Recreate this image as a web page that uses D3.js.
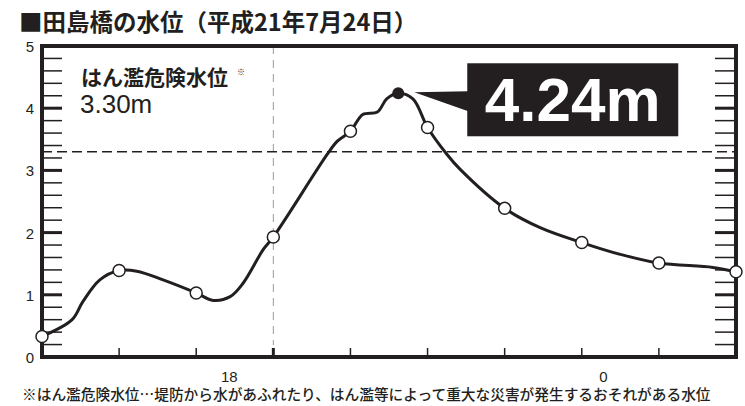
<!DOCTYPE html>
<html>
<head>
<meta charset="utf-8">
<script src="https://cdn.jsdelivr.net/npm/d3@7"></script>
</head>
<body style="margin:0">
<div id="grafico"></div>
<script>
var lineX   = [0, 0.39, 0.53, 0.75, 1, 1.23, 1.57, 2, 2.22, 2.44, 2.61, 2.87, 3, 3.70, 3.83, 4, 4.16, 4.35, 4.47, 4.62, 4.81, 5, 5.25, 5.42, 6, 6.46, 7, 7.5, 8, 8.7, 9];
var lineVal = [0.33, 0.60, 0.89, 1.24, 1.39, 1.38, 1.24, 1.03, 0.91, 0.97, 1.19, 1.73, 1.93, 3.26, 3.47, 3.63, 3.90, 3.94, 4.15, 4.24, 4.15, 3.69, 3.26, 3.02, 2.39, 2.08, 1.84, 1.65, 1.51, 1.44, 1.37];
var markX   = [0, 1, 2, 3, 4, 5, 6, 7, 8, 9];
var markVal = [0.33, 1.39, 1.03, 1.93, 3.63, 3.69, 2.39, 1.84, 1.51, 1.37];
var peakX = 4.62, peakVal = 4.24;
var dangerLevel = 3.30;
var eventX = 3;
var xTickPos = [2.43, 7.28];
var xTickLabels = ["18", "0"];
var yMajor = [0, 1, 2, 3, 4, 5];

var margin = {top: 46, right: 9, bottom: 49, left: 42},
    width = 745 - margin.left - margin.right,
    height = 406 - margin.top - margin.bottom;

var INK = "#231f20";
var LATIN = "Liberation Sans, Arial, sans-serif";
var JP = "Noto Sans CJK JP, sans-serif";

var root = d3.select("#grafico").append("svg")
    .attr("width", 745)
    .attr("height", 406);

var x = d3.scaleLinear().domain([0, 9]).range([0, width]);
var y = d3.scaleLinear().domain([0, 5]).range([height, 0]);

var svg = root.append("g")
    .attr("transform", "translate(" + margin.left + "," + margin.top + ")");

// inner ticks every 0.2 m on both sides, integers thicker
var yTicks = y.ticks(25).filter(function(v) { return v > 0 && v < 5; });
svg.append("g")
    .selectAll("line")
    .data(yTicks)
    .enter()
    .append("line")
      .attr("x1", 0).attr("x2", 20)
      .attr("y1", function(d) { return y(d); })
      .attr("y2", function(d) { return y(d); })
      .attr("stroke", INK)
      .attr("stroke-width", function(d) { return d % 1 === 0 ? 3 : 1.5; });
svg.append("g")
    .selectAll("line")
    .data(yTicks)
    .enter()
    .append("line")
      .attr("x1", width - 21).attr("x2", width)
      .attr("y1", function(d) { return y(d); })
      .attr("y2", function(d) { return y(d); })
      .attr("stroke", INK)
      .attr("stroke-width", function(d) { return d % 1 === 0 ? 3 : 1.5; });

// bottom ticks
svg.append("g")
    .selectAll("line")
    .data(markX.slice(1, 9))
    .enter()
    .append("line")
      .attr("x1", function(d) { return x(d); })
      .attr("x2", function(d) { return x(d); })
      .attr("y1", height - 9).attr("y2", height)
      .attr("stroke", INK)
      .attr("stroke-width", function(d) { return d === eventX ? 3 : 1.5; });

// y labels
svg.append("g")
    .selectAll("text")
    .data(yMajor)
    .enter()
    .append("text")
      .attr("x", -8)
      .attr("y", function(d) { return y(d) + 6; })
      .attr("text-anchor", "end")
      .attr("font-family", LATIN)
      .attr("font-size", 15)
      .attr("fill", INK)
      .text(function(d) { return d; });

// x labels
svg.append("g")
    .selectAll("text")
    .data(xTickPos)
    .enter()
    .append("text")
      .attr("x", function(d) { return x(d); })
      .attr("y", height + 25)
      .attr("text-anchor", "middle")
      .attr("font-family", LATIN)
      .attr("font-size", 15)
      .attr("fill", INK)
      .text(function(d, i) { return xTickLabels[i]; });

// vertical dashed guide
svg.append("line")
    .attr("x1", x(eventX)).attr("x2", x(eventX))
    .attr("y1", 0).attr("y2", height - 12)
    .attr("stroke", "#9a9a9a")
    .attr("stroke-width", 1)
    .attr("stroke-dasharray", "8,6");

// danger level
svg.append("line")
    .attr("x1", 0).attr("x2", width)
    .attr("y1", y(dangerLevel)).attr("y2", y(dangerLevel))
    .attr("stroke", INK)
    .attr("stroke-width", 1.5)
    .attr("stroke-dasharray", "10,5");

// frame
svg.append("rect")
    .attr("width", width).attr("height", height)
    .attr("fill", "none")
    .attr("stroke", INK)
    .attr("stroke-width", 4);

// danger label
svg.append("text")
    .attr("x", 39).attr("y", 39)
    .attr("font-family", JP)
    .attr("font-size", 21)
    .attr("font-weight", 700)
    .attr("fill", INK)
    .text("はん濫危険水位");
svg.append("text")
    .attr("x", 195).attr("y", 29)
    .attr("font-family", JP)
    .attr("font-size", 8)
    .attr("fill", INK)
    .text("※");
svg.append("text")
    .attr("x", 38).attr("y", 67)
    .attr("font-family", LATIN)
    .attr("font-size", 26)
    .attr("fill", INK)
    .text(dangerLevel.toFixed(2) + "m");

// water level line
var pts = lineX.map(function(d, i) { return [d, lineVal[i]]; });
svg.append("path")
    .datum(pts)
    .attr("fill", "none")
    .attr("stroke", INK)
    .attr("stroke-width", 3)
    .attr("stroke-linejoin", "round")
    .attr("d", d3.line()
        .curve(d3.curveCatmullRom.alpha(0.5))
        .x(function(d) { return x(d[0]); })
        .y(function(d) { return y(d[1]); }));

// hourly markers
svg.append("g")
    .selectAll("circle")
    .data(markX)
    .enter()
    .append("circle")
      .attr("cx", function(d) { return x(d); })
      .attr("cy", function(d, i) { return y(markVal[i]); })
      .attr("r", 6)
      .attr("fill", "#fff")
      .attr("stroke", INK)
      .attr("stroke-width", 1.5);

// peak
var px = x(peakX), py = y(peakVal);
svg.append("circle")
    .attr("cx", px).attr("cy", py)
    .attr("r", 6)
    .attr("fill", INK);

// callout
svg.append("path")
    .attr("d", "M" + (px + 16) + "," + (py - 1) + "L" + (px + 70) + "," + (py - 2) + "L" + (px + 70) + "," + (py + 18) + "Z")
    .attr("fill", INK);
svg.append("rect")
    .attr("x", px + 69).attr("y", py - 30)
    .attr("width", 211).attr("height", 73)
    .attr("fill", INK);
svg.append("text")
    .attr("x", px + 69 + 105.5).attr("y", py + 28)
    .attr("text-anchor", "middle")
    .attr("font-family", LATIN)
    .attr("font-size", 62)
    .attr("font-weight", 700)
    .attr("fill", "#fff")
    .text(peakVal.toFixed(2) + "m");

// title
root.append("text")
    .attr("x", 19)
    .attr("y", 31)
    .attr("font-family", JP)
    .attr("font-size", 23.5)
    .attr("font-weight", 700)
    .attr("fill", INK)
    .text("■田島橋の水位（平成21年7月24日）");

// footnote
root.append("text")
    .attr("x", 22)
    .attr("y", 400)
    .attr("font-family", JP)
    .attr("font-size", 14.7)
    .attr("font-weight", 500)
    .attr("fill", INK)
    .text("※はん濫危険水位…堤防から水があふれたり、はん濫等によって重大な災害が発生するおそれがある水位");
</script>
</body>
</html>
